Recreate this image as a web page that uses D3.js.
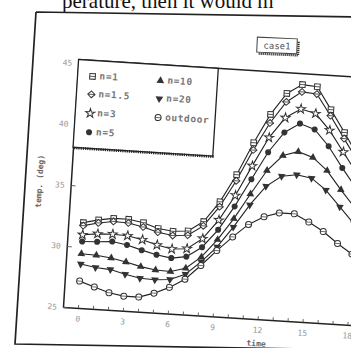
<!DOCTYPE html>
<html><head><meta charset="utf-8">
<script src="https://cdn.jsdelivr.net/npm/d3@7"></script>
<style>html,body{margin:0;padding:0;background:#fff;} svg{display:block;}</style>
</head><body>
<script>
// hourly temperatures, case 1
const hours   = [0,1,2,3,4,5,6,7,8,9,10,11,12,13,14,15,16,17,18];
const n1      = [32.0,32.3,32.5,32.5,32.3,31.9,31.75,31.85,32.7,34.4,36.7,39.4,41.8,43.6,44.4,44.3,42.5,40.7,38.8];
const n1_5    = [31.75,32.05,32.25,32.2,31.95,31.6,31.4,31.5,32.35,34.0,36.2,38.8,41.1,42.9,43.8,43.7,42.0,40.2,38.4];
const n3      = [31.0,31.15,31.2,31.15,30.9,30.55,30.3,30.4,31.3,32.9,35.0,37.5,39.9,41.6,42.4,42.1,40.8,39.1,37.4];
const n5      = [30.45,30.5,30.6,30.4,30.05,29.75,29.55,29.75,30.6,32.1,34.1,36.4,38.7,40.4,41.2,40.8,39.5,37.8,36.2];
const n10     = [29.45,29.4,29.25,29.0,28.7,28.5,28.45,28.8,29.8,31.3,33.1,35.2,37.2,38.5,38.9,38.5,37.5,36.0,34.6];
const n20     = [28.6,28.4,28.3,28.0,27.75,27.7,27.8,28.3,29.4,30.7,32.4,34.3,35.9,36.8,37.0,36.8,35.9,34.6,33.3];
const outdoor = [27.2,26.8,26.4,26.2,26.2,26.6,27.15,27.9,29.1,30.4,31.6,32.7,33.4,33.8,33.8,33.2,32.5,31.6,30.8];

const seriesNames  = ["n=1","n=1.5","n=3","n=5","n=10","n=20","outdoor"];
const seriesValues = [n1,n1_5,n3,n5,n10,n20,outdoor];
const seriesMarks  = ["squareBar","diamondBar","star","dot","triUp","triDown","circleBar"];

const xTickHours  = [0,1,2,3,4,5,6,7,8,9,10,11,12,13,14,15,16,17,18,19,20,21,22,23,24];
const xLabelHours = [0,3,6,9,12,15,18,21,24];
const yTicks      = [25,30,35,40,45];

const W = 351, H = 348;
const svg = d3.select("body").append("svg").attr("width", W).attr("height", H);
svg.append("rect").attr("width", W).attr("height", H).attr("fill", "#fff");

// page text above the figure
svg.append("text").attr("x", 62).attr("y", 8)
  .attr("font-family", "Liberation Serif, serif").attr("font-size", 21).attr("fill", "#111")
  .text("perature, then it would m");

// figure frame
svg.append("path").attr("d", "M36,12 L360,17 M36,12 L15,344 L360,350")
  .attr("fill", "none").attr("stroke", "#222").attr("stroke-width", 1.7);

// "case1" tag with shadow
const tag = svg.append("g").attr("transform", "rotate(2.5,277,46)");
tag.append("rect").attr("x", 257).attr("y", 38).attr("width", 40).attr("height", 15)
  .attr("fill", "#fff").attr("stroke", "#444").attr("stroke-width", 1);
tag.append("path").attr("d", "M259,54.5 L298.5,54.5 L298.5,40")
  .attr("fill", "none").attr("stroke", "#333").attr("stroke-width", 2.2).attr("stroke-dasharray", "1.2,0.8");
tag.append("text").attr("x", 277).attr("y", 49).attr("text-anchor", "middle")
  .attr("font-family", "DejaVu Sans Mono, monospace").attr("font-size", 9).attr("fill", "#555")
  .text("case1");

// plot, slightly tilted
const PW = 390, PH = 248;
const ox = 63, oy = 307, tilt = 3.6;
const g = svg.append("g").attr("transform", `rotate(${tilt},${ox},${oy}) translate(${ox},${oy - PH})`);

const x = d3.scaleLinear().domain([-1, 25]).range([0, PW]);
const y = d3.scaleLinear().domain([25, 45.3]).range([PH, 0]);

const tickFont = "DejaVu Sans Mono, monospace";

const xAxis = d3.axisBottom(x).tickValues(xTickHours).tickSize(-3).tickSizeOuter(0).tickPadding(8)
  .tickFormat(d => xLabelHours.includes(d) ? String(d) : "");
const gx = g.append("g").attr("transform", `translate(0,${PH})`).call(xAxis);

const yAxis = d3.axisLeft(y).tickValues(yTicks).tickSize(-5).tickSizeOuter(0).tickPadding(6);
const gy = g.append("g").call(yAxis);

[gx, gy].forEach(a => {
  a.select(".domain").attr("stroke", "#222").attr("stroke-width", 1.5);
  a.selectAll(".tick line").attr("stroke", "#555").attr("stroke-width", 0.9);
  a.selectAll(".tick text").attr("fill", "#999").attr("font-family", tickFont).attr("font-size", 8);
});

// top border of plot
g.append("line").attr("x1", 0).attr("y1", 0).attr("x2", PW).attr("y2", 0)
  .attr("stroke", "#222").attr("stroke-width", 1.5);

// axis titles
g.append("text").attr("transform", `translate(-31,${PH / 2}) rotate(-90)`)
  .attr("text-anchor", "middle").attr("dominant-baseline", "middle")
  .attr("font-family", tickFont).attr("font-size", 8).attr("font-weight", "bold").attr("fill", "#666")
  .text("temp. (deg)");
g.append("text").attr("x", PW / 2).attr("y", PH + 27).attr("text-anchor", "middle")
  .attr("font-family", tickFont).attr("font-size", 8).attr("font-weight", "bold").attr("fill", "#666")
  .text("time");

// marker drawing
function drawMark(sel, kind) {
  const ink = "#333";
  if (kind === "squareBar") {
    sel.append("rect").attr("x", -2.8).attr("y", -2.8).attr("width", 5.6).attr("height", 5.6)
      .attr("fill", "#fff").attr("stroke", ink).attr("stroke-width", 1);
    sel.append("line").attr("x1", -2.8).attr("x2", 2.8).attr("stroke", ink).attr("stroke-width", 0.8);
  } else if (kind === "diamondBar") {
    sel.append("path").attr("d", "M0,-3.4 L3.6,0 L0,3.4 L-3.6,0 Z")
      .attr("fill", "#fff").attr("stroke", ink).attr("stroke-width", 1);
    sel.append("line").attr("x1", -3.6).attr("x2", 3.6).attr("stroke", ink).attr("stroke-width", 0.8);
  } else if (kind === "star") {
    sel.append("path").attr("d", d3.symbol(d3.symbolStar, 26)())
      .attr("fill", "#fff").attr("stroke", ink).attr("stroke-width", 1);
  } else if (kind === "dot") {
    sel.append("circle").attr("r", 3).attr("fill", ink);
  } else if (kind === "triUp") {
    sel.append("path").attr("d", d3.symbol(d3.symbolTriangle, 26)()).attr("fill", ink);
  } else if (kind === "triDown") {
    sel.append("path").attr("d", d3.symbol(d3.symbolTriangle, 26)()).attr("transform", "rotate(180)").attr("fill", ink);
  } else if (kind === "circleBar") {
    sel.append("circle").attr("r", 3).attr("fill", "#fff").attr("stroke", ink).attr("stroke-width", 1);
    sel.append("line").attr("x1", -3).attr("x2", 3).attr("stroke", ink).attr("stroke-width", 0.7);
  }
}

const line = d3.line().x((d, i) => x(hours[i])).y(d => y(d));

seriesValues.forEach(vals => {
  g.append("path").datum(vals).attr("d", line)
    .attr("fill", "none").attr("stroke", "#222").attr("stroke-width", 1.1);
});
seriesValues.forEach((vals, k) => {
  vals.forEach((v, i) => {
    const m = g.append("g").attr("transform", `translate(${x(hours[i])},${y(v)})`);
    drawMark(m, seriesMarks[k]);
  });
});

// legend box in the upper left corner of the plot
const LW = 140, LH = 88;
const lg = g.append("g");
lg.append("rect").attr("width", LW).attr("height", LH).attr("fill", "#fff")
  .attr("stroke", "#222").attr("stroke-width", 1.3);
lg.append("line").attr("x1", 1).attr("y1", LH + 0.5).attr("x2", LW + 1).attr("y2", LH + 0.5)
  .attr("stroke", "#222").attr("stroke-width", 2.6).attr("stroke-dasharray", "1.3,0.9");

const legRows = [16, 34, 53, 72];
const legCols = [15, 83];
seriesNames.forEach((name, k) => {
  const col = k < 4 ? 0 : 1;
  const row = k < 4 ? k : k - 4;
  const eg = lg.append("g").attr("transform", `translate(${legCols[col]},${legRows[row]})`);
  drawMark(eg, seriesMarks[k]);
  eg.append("text").attr("x", 7).attr("y", 0).attr("dominant-baseline", "middle")
    .attr("font-family", tickFont).attr("font-size", 9.5).attr("font-weight", "bold")
    .attr("letter-spacing", 0.6).attr("fill", "#777")
    .text(name);
});
</script>
</body></html>
